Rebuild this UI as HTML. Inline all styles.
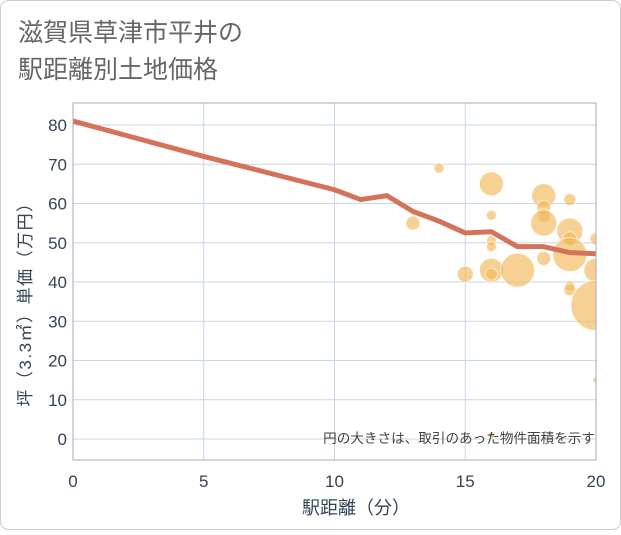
<!DOCTYPE html>
<html><head><meta charset="utf-8"><style>
body{margin:0;background:#fff;}
svg text{font-family:"Liberation Sans","Noto Sans CJK JP",sans-serif;}
</style></head><body>
<svg id="c" width="621" height="530" xmlns="http://www.w3.org/2000/svg">
<rect x="0.5" y="0.5" width="620" height="529" rx="8" fill="#fff" stroke="#ccc"/>
<text x="18" y="41" font-size="25" fill="#666">滋賀県草津市平井の</text>
<text x="18" y="78" font-size="25" fill="#666">駅距離別土地価格</text>
<g id="grid"></g>
<g id="bubbles"></g>
<g id="line"></g>
<g id="axes"></g>
<text x="595" y="443" font-size="13.6" fill="#444" text-anchor="end">円の大きさは、取引のあった物件面積を示す</text>
<text x="356" y="514" font-size="18" fill="#345" text-anchor="middle">駅距離（分）</text>
<text transform="translate(31,300) rotate(-90)" font-size="17" letter-spacing="1.5" fill="#345" text-anchor="middle">坪（3.3㎡）単価（万円）</text>
</svg>
<script>
const xTicks=[0,5,10,15,20];
const yTicks=[0,10,20,30,40,50,60,70,80];
const lineX=[0,5,10,11,12,13,14,15,16,17,18,19,20];
const lineY=[81,72,63.5,61,62,58,55.5,52.5,52.8,49,49,47.5,47.2];
const bubX=[14,16,16,16,16,13,15,16,16,17,18,18,18,18,18,19,19,19,19,19,19,20,20,20,20,16];
const bubY=[69,65,57,50.5,49,55,42,43,42,43,62,59,57,55,46,61,53,51,47,39,38,51,43,34,15,1];
const bubR=[5,12,5,5,5,7,8,12,6,17,12,7,7,13,7,6,13,7,17,5,6,6,12,25,3,3];
const L=73,R=596,T=103,B=460;
const sx=v=>L+(v-0)/20*(R-L);
const sy=v=>439-v*(439-125)/80;
const NS="http://www.w3.org/2000/svg";
function mk(t,a,p){const e=document.createElementNS(NS,t);for(const k in a)e.setAttribute(k,a[k]);p.appendChild(e);return e;}
const svg=document.getElementById('c');
const defs=mk('defs',{},svg);
const cp=mk('clipPath',{id:'pc'},defs);mk('rect',{x:L,y:T,width:R-L,height:B-T},cp);
const g=document.getElementById('grid');
yTicks.forEach(v=>{const e=mk('line',{x1:L,x2:R,y1:sy(v),y2:sy(v),stroke:'#c9d6e6','stroke-width':1},g);


const t=mk('text',{x:L-6,y:sy(v)+6,'font-size':17,fill:'#345','text-anchor':'end'},document.getElementById('axes'));t.textContent=v;

});
xTicks.forEach(v=>{const e=mk('line',{x1:sx(v),x2:sx(v),y1:T,y2:B,stroke:'#c9d6e6','stroke-width':1},g);


const t=mk('text',{x:sx(v),y:487,'font-size':17,fill:'#345','text-anchor':'middle'},document.getElementById('axes'));t.textContent=v;

});
const fr=mk('rect',{x:L,y:T,width:R-L,height:B-T,fill:'none',stroke:'#aab',"stroke-width":1},document.getElementById('axes'));


const bg=document.getElementById('bubbles');bg.setAttribute('clip-path','url(#pc)');
bubX.forEach((x,i)=>{const c=mk('circle',{cx:sx(x),cy:sy(bubY[i]),r:bubR[i],fill:'#f2b85a','fill-opacity':0.65,stroke:'#fff','stroke-opacity':0.6,'stroke-width':1},bg);

});
const lg=document.getElementById('line');lg.setAttribute('clip-path','url(#pc)');
const p=mk('polyline',{points:lineX.map((x,i)=>sx(x)+','+sy(lineY[i])).join(' '),fill:'none',stroke:'#d4735a','stroke-width':5,'stroke-linejoin':'round'},lg);


</script>
</body></html>
